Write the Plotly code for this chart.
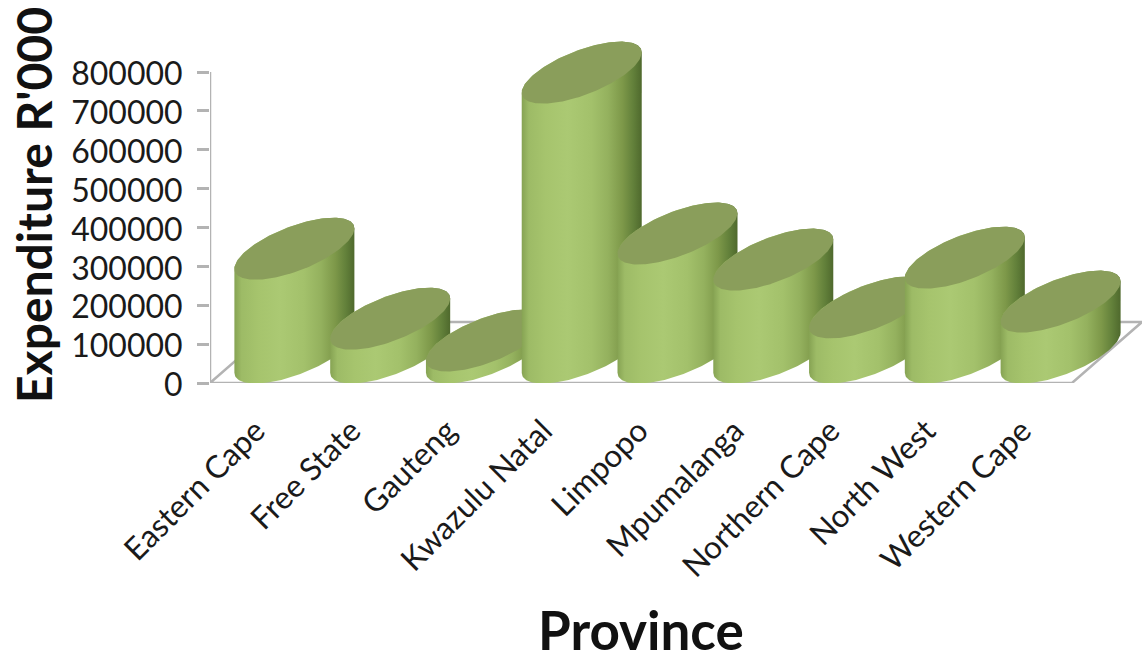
import numpy as np
import plotly.graph_objects as go

provinces = ["Eastern Cape", "Free State", "Gauteng", "Kwazulu Natal", "Limpopo",
             "Mpumalanga", "Northern Cape", "North West", "Western Cape"]
expenditure = [267000, 87000, 31000, 720000, 306000, 239000, 116000, 244000, 131000]
value_ticks = [0, 100000, 200000, 300000, 400000, 500000, 600000, 700000, 800000]

W, H = 1142, 662
LEFT, BASE = 210, 383
PX_PER_CAT = (1072 - 210) / 9
PX_PER_VAL = (383 - 72) / 800000
DEPTH_X, DEPTH_Y = 70 / PX_PER_CAT, 61 / PX_PER_VAL
CYL_SHIFT = 1.5 / PX_PER_CAT

RX = 60 / PX_PER_CAT
RY = 31 / PX_PER_VAL
T0 = np.radians(49.5)

FONT = "Lato, Carlito, Calibri, sans-serif"
GRAY = "#b3b3b3"
BODY_SCALE = [[0, "#86a353"], [0.06, "#9dbb66"], [0.2, "#a6c46d"], [0.38, "#abc973"],
              [0.58, "#a3c16b"], [0.72, "#94b15e"], [0.84, "#7d9849"], [0.93, "#62803a"],
              [1, "#4f692d"]]
TOP_COLOR = "#8a9e5b"

fig = go.Figure()

# floor outline
fx = [-0.5, 8.5, 8.5 + DEPTH_X, -0.5 + DEPTH_X, -0.5]
fy = [0, 0, DEPTH_Y, DEPTH_Y, 0]
fig.add_trace(go.Scatter(x=fx, y=fy, mode="lines", line=dict(color=GRAY, width=2.5),
                         cliponaxis=False, hoverinfo="skip", showlegend=False))
# value axis line
fig.add_trace(go.Scatter(x=[-0.5, -0.5], y=[0, value_ticks[-1]], mode="lines",
                         line=dict(color=GRAY, width=2.5), cliponaxis=False,
                         hoverinfo="skip", showlegend=False))


def ellipse(cx, cy, t):
    return cx + RX * np.cos(t), cy + RY * np.cos(t - T0)


for i, v in enumerate(expenditure):
    cx, cy0 = i + DEPTH_X / 2 + CYL_SHIFT, DEPTH_Y / 2
    tb = np.linspace(-np.pi, 0, 80)
    bx, by = ellipse(cx, cy0, tb)
    tt = np.linspace(0, np.pi, 80)
    ux, uy = ellipse(cx, cy0 + v, tt)
    fig.add_trace(go.Scatter(
        x=np.r_[bx, ux], y=np.r_[by, uy], mode="lines", line=dict(width=0),
        fill="toself", fillgradient=dict(type="horizontal", colorscale=BODY_SCALE),
        hoverinfo="skip", showlegend=False))
    ta = np.linspace(0, 2 * np.pi, 160)
    ex, ey = ellipse(cx, cy0 + v, ta)
    fig.add_trace(go.Scatter(
        x=ex, y=ey, mode="lines", line=dict(width=0), fill="toself",
        fillcolor=TOP_COLOR, hoverinfo="skip", showlegend=False))

fig.update_layout(
    width=W, height=H, margin=dict(l=LEFT, r=0, t=0, b=H - BASE),
    paper_bgcolor="white", plot_bgcolor="white", showlegend=False,
    font=dict(family=FONT, color="#1a1a1a"),
    xaxis=dict(range=[-0.5, -0.5 + (W - LEFT) / PX_PER_CAT], showgrid=False, zeroline=False,
               showline=False, tickmode="array", tickvals=list(range(len(provinces))),
               ticktext=provinces, tickangle=-45, tickfont=dict(size=31.5), ticks="",
               ticklabelstandoff=22, ticklabelshift=-2),
    yaxis=dict(range=[0, BASE / PX_PER_VAL], showgrid=False, zeroline=False, showline=False,
               tickmode="array", tickvals=value_ticks, ticktext=[str(t) for t in value_ticks],
               tickfont=dict(size=32), ticks="outside", ticklen=12, tickwidth=2.5, tickcolor=GRAY,
               ticklabelstandoff=8, ticklabelshift=2),
    annotations=[
        dict(text="<b>Province</b>", xref="paper", yref="paper",
             x=(641 - LEFT) / (W - LEFT), y=(BASE - 629) / BASE, xanchor="center", yanchor="middle",
             showarrow=False, font=dict(size=53, color="#111")),
        dict(text="<b>Expenditure R'000</b>", xref="paper", yref="paper", textangle=-90,
             x=(33 - LEFT) / (W - LEFT), y=(BASE - 205) / BASE, xanchor="center", yanchor="middle",
             showarrow=False, font=dict(size=48, color="#111")),
    ],
)

fig.write_html("out.html", config={"displayModeBar": False},
               post_script="document.body.style.margin='0';")
